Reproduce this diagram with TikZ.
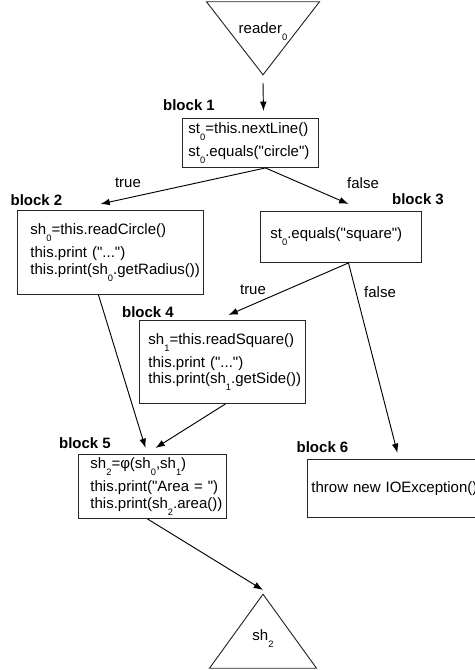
\documentclass[tikz,border=0pt]{standalone}
\usepackage{fontspec}
\setmainfont{Liberation Sans}[Ligatures=TeXOff]
\usetikzlibrary{arrows.meta,positioning,calc,shapes.geometric}
\newcommand{\ix}[1]{\raisebox{-0.45em}{\fontsize{7}{7}\selectfont #1}}

\begin{document}
\begin{tikzpicture}[
      x=0.75pt,y=-0.75pt,
      >={Latex[length=7pt,width=5pt]},
      font=\fontsize{11.25}{12.4}\selectfont,
      blk/.style={draw=black!85,line width=0.7pt,anchor=north west,align=left,inner ysep=0pt},
      tag/.style={font=\fontsize{11.25}{12.4}\selectfont\bfseries,inner sep=0pt},
      lbl/.style={inner sep=0pt},
      tri/.style={draw=black!85,line width=0.7pt,isosceles triangle,isosceles triangle stretches,
                  inner sep=0pt,anchor=apex},
      flow/.style={->,line width=0.7pt}
    ]
    \useasboundingbox (0,0) rectangle (474,670);
    % entry and exit
    \node[tri,shape border rotate=270,minimum width=84.75pt,minimum height=54.75pt] (reader) at (263,76)
      {\makebox[0pt]{reader\ix{0}}};
    \node[tri,shape border rotate=90,minimum width=80.25pt,minimum height=55.5pt] (sh2) at (263,593)
      {\makebox[0pt]{sh\ix{2}}};
    % blocks
    \node[blk,inner xsep=4.5pt,text width=93pt,minimum height=36.75pt] (b1) at (182,118)
      {st\ix{0}=this.nextLine()\\[3pt]st\ix{0}.equals("circle")};
    \node[blk,inner xsep=9.75pt,text width=120pt,minimum height=63pt] (b2) at (17,210)
      {sh\ix{0}=this.readCircle()\\[3pt]this.print~("...")\\this.print(sh\ix{0}.getRadius())};
    \node[blk,inner xsep=7.5pt,text width=105.75pt,minimum height=38.25pt] (b3) at (260,211)
      {st\ix{0}.equals("square")};
    \node[blk,inner xsep=6.75pt,text width=111pt,minimum height=62.25pt] (b4) at (139,320)
      {sh\ix{1}=this.readSquare()\\[3pt]this.print~("...")\\this.print(sh\ix{1}.getSide())};
    \node[blk,inner xsep=9pt,text width=93pt,minimum height=48pt] (b5) at (78,454)
      {sh\ix{2}=φ(sh\ix{0},sh\ix{1})\\[3pt]this.print("Area~=~")\\this.print(sh\ix{2}.area())};
    \node[blk,inner xsep=3pt,text width=136.5pt,minimum height=43.5pt] (b6) at (307,459)
      {throw new IOException()};
    % block names
    \node[tag] (n1) at (189,105) {block 1};
    \node[tag] (n2) at (36.5,200) {block 2};
    \node[tag] (n3) at (418,199) {block 3};
    \node[tag] (n4) at (148,312) {block 4};
    \node[tag] (n5) at (85,443) {block 5};
    \node[tag] (n6) at (322.5,447) {block 6};
    % branch labels
    \node[lbl] (t1) at (128,183) {true};
    \node[lbl] (f1) at (363,183) {false};
    \node[lbl] (t2) at (253,290) {true};
    \node[lbl] (f2) at (380,292) {false};
    % edges
    \draw[flow] ([yshift=-5.25pt]reader.apex) -- ([xshift=9.75pt,yshift=5.25pt]b1.north);
    \draw[flow] ([xshift=11.25pt]b1.south) -- ([xshift=-7.5pt,yshift=4.5pt]b2.north);
    \draw[flow] ([xshift=11.25pt]b1.south) -- ([xshift=5.625pt,yshift=5.25pt]b3.north);
    \draw[flow] ([xshift=5.625pt]b3.south) -- ([xshift=4.5pt,yshift=3.75pt]b4.north);
    \draw[flow] ([xshift=5.625pt]b3.south) -- ([xshift=-3.75pt,yshift=4.5pt]b6.north);
    \draw[flow] ([xshift=-9pt]b2.south) -- ([xshift=-5.25pt,yshift=4.5pt]b5.north);
    \draw[flow] ([xshift=2.25pt]b4.south) -- ([xshift=2.25pt,yshift=4.5pt]b5.north);
    \draw[flow] ([xshift=-3.75pt]b5.south) -- ([yshift=2.25pt]sh2.apex);
  \end{tikzpicture}
\end{document}
